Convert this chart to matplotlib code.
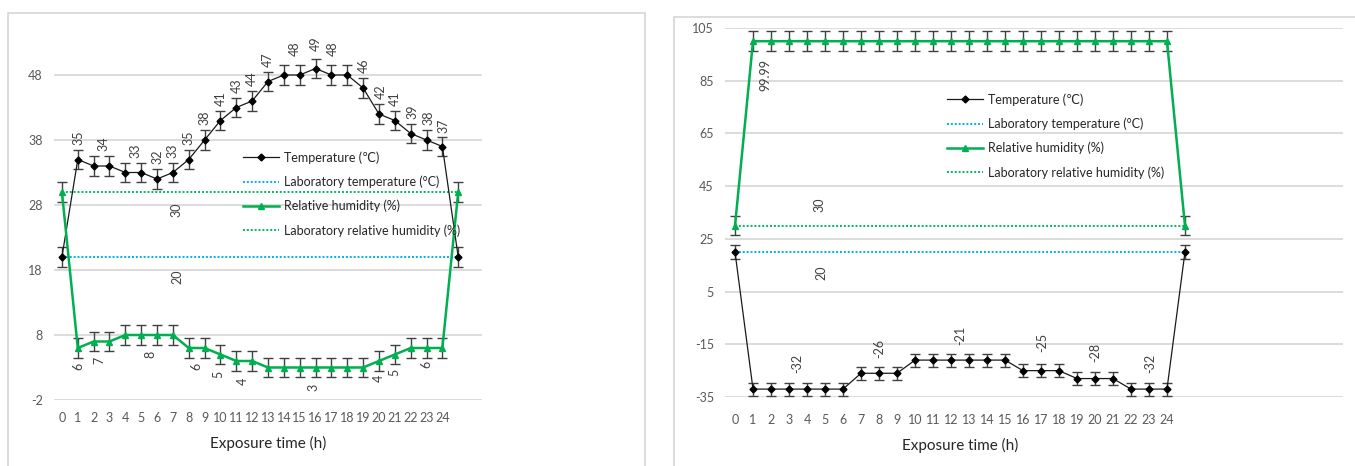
import matplotlib
matplotlib.use("Agg")
import matplotlib.pyplot as plt
from matplotlib.lines import Line2D

# ---- data -------------------------------------------------------------
hours = [str(h) for h in range(25)] + [""]

left_temp = [20, 35, 34, 34, 33, 33, 32, 33, 35, 38, 41, 43, 44, 47, 48, 48,
             49, 48, 48, 46, 42, 41, 39, 38, 37, 20]
left_rh = [30, 6, 7, 7, 8, 8, 8, 8, 6, 6, 5, 4, 4, 3, 3, 3, 3, 3, 3, 3,
           4, 5, 6, 6, 6, 30]

right_temp = [20, -32, -32, -32, -32, -32, -32, -26, -26, -26, -21, -21, -21,
              -21, -21, -21, -25, -25, -25, -28, -28, -28, -32, -32, -32, 20]
right_rh = [30] + [99.99] * 24 + [30]

lab_temp = 20
lab_rh = 30

left_temp_err = 1.5
left_rh_err = 1.5
right_temp_err = 2.5
right_rh_err = 3.7

left_yticks = [-2, 8, 18, 28, 38, 48]
right_yticks = [-35, -15, 5, 25, 45, 65, 85, 105]

# ---- style ------------------------------------------------------------
plt.rcParams["font.family"] = ["Lato", "DejaVu Sans"]
plt.rcParams["axes.unicode_minus"] = False

W, H = 1355, 466
C_TEMP = "#1a1a1a"
C_ERR = "#404040"
C_RH = "#00B050"
C_LAB_T = "#00B0F0"
C_LAB_RH = "#00B860"
C_GRID = "#D9D9D9"
C_TICK = "#595959"
C_LBL = "#404040"
FS = 8.5

fig = plt.figure(figsize=(W / 100, H / 100), dpi=100)


def px_axes(x0, y0, x1, y1):
    """Axes from pixel box (left, top, right, bottom)."""
    return fig.add_axes([x0 / W, 1 - y1 / H, (x1 - x0) / W, (y1 - y0) / H])


def frame_line(xs, ys):
    fig.add_artist(Line2D([x / W for x in xs], [1 - y / H for y in ys],
                          color=C_GRID, lw=1.3, transform=fig.transFigure))


def draw_panel(ax, temp, rh, t_err, r_err, yticks, ylim, xlim, xpad):
    x = list(range(len(temp)))
    ax.set_xlim(*xlim)
    ax.set_ylim(*ylim)
    ax.set_yticks(yticks)
    ax.set_xticks(x)
    ax.set_xticklabels(hours)
    ax.yaxis.grid(True, color=C_GRID, lw=1.3)
    ax.set_axisbelow(True)
    for s in ax.spines.values():
        s.set_visible(False)
    ax.tick_params(length=0, labelsize=FS + 0.5, colors=C_TICK)
    ax.tick_params(axis="y", pad=8)
    ax.tick_params(axis="x", pad=xpad)

    lab_t, = ax.plot([0, len(temp) - 1], [lab_temp, lab_temp], ls=(0, (1, 1)),
                     lw=1.4, color=C_LAB_T, label="Laboratory temperature (°C)",
                     zorder=2)
    lab_r, = ax.plot([0, len(temp) - 1], [lab_rh, lab_rh], ls=(0, (1, 1)),
                     lw=1.4, color=C_LAB_RH,
                     label="Laboratory relative humidity (%)", zorder=2)

    ax.errorbar(x, temp, yerr=t_err, fmt="none", ecolor=C_ERR, elinewidth=1,
                capsize=3.5, capthick=1, zorder=3)
    ax.errorbar(x, rh, yerr=r_err, fmt="none", ecolor=C_ERR, elinewidth=1,
                capsize=3.5, capthick=1, zorder=3)
    t_line, = ax.plot(x, temp, color=C_TEMP, lw=0.9, marker="D", ms=3.5,
                      mfc="black", mec="black", label="Temperature (℃)",
                      zorder=4)
    r_line, = ax.plot(x, rh, color=C_RH, lw=1.8, marker="^", ms=5,
                      mfc=C_RH, mec=C_RH, label="Relative humidity (%)",
                      zorder=4)
    return [t_line, lab_t, r_line, lab_r]


def value_labels(ax, values, spec):
    for idx, dx, dy in spec:
        v = values[idx]
        ax.annotate(f"{v:g}", (idx, v), xytext=(dx, dy),
                    textcoords="offset pixels", rotation=90, ha="center",
                    va="center", fontsize=FS + 0.5, color=C_LBL,
                    annotation_clip=False, zorder=5)


def lab_label(ax, value, pos, dx, dy):
    ax.annotate(f"{value:g}", (pos, value), xytext=(dx, dy),
                textcoords="offset pixels", rotation=90, ha="center",
                va="center", fontsize=FS + 0.5, color=C_LBL, zorder=5)


def add_legend(ax, handles, x_px, top_px):
    ax.legend(handles=handles, loc="upper left",
              bbox_to_anchor=(x_px / W, 1 - top_px / H),
              bbox_transform=fig.transFigure, frameon=False, fontsize=FS + 0.5,
              handlelength=2.9, handletextpad=0.4, labelspacing=0.95,
              borderpad=0, borderaxespad=0, numpoints=1, labelcolor="#262626")


# ---- left panel -------------------------------------------------------
frame_line([8, 8, 645, 645], [H, 13, 13, H])
axL = px_axes(54, 29.5, 482, 400)
handles_L = draw_panel(axL, left_temp, left_rh, left_temp_err, left_rh_err,
                       left_yticks, (-2, 55), (-0.5, 26.5), 9)

value_labels(axL, left_temp, [
    (1, 1, 22), (2, 10, 22), (4, 10, 22), (6, 0, 22), (7, 0, 22),
    (8, 0, 22), (9, 0, 22), (10, 0, 22), (11, 1, 22), (12, 0, 22),
    (13, 0, 22), (14, 11, 26), (16, 0, 25), (17, 1, 26), (19, 1, 22),
    (20, 2, 22), (21, 0, 22), (22, 2, 22), (23, 2, 22), (24, 1, 21),
])
value_labels(axL, left_rh, [
    (1, 1, -18), (2, 6, -19), (5, 9, -19), (8, 8, -18), (10, -2, -20),
    (11, 7, -20), (16, -2, -20), (20, 0, -17), (21, 0, -18), (23, 0, -16),
])
lab_label(axL, lab_rh, 7, 4, -18)
lab_label(axL, lab_temp, 7, 5, -20)

add_legend(axL, handles_L, 243, 151)
fig.text(268 / W, 1 - 443 / H, "Exposure time (h)", ha="center", va="center",
         fontsize=11, color="#262626")

# ---- right panel ------------------------------------------------------
frame_line([674, 674, W + 5], [H, 17, 17])
axR = px_axes(725, 28, 1343, 397)
handles_R = draw_panel(axR, right_temp, right_rh, right_temp_err, right_rh_err,
                       right_yticks, (-35, 105), (-0.556, 33.78), 12)

value_labels(axR, right_rh, [(1, 12, -34)])
value_labels(axR, right_temp, [
    (3, 8, 26), (8, 0, 25), (12, 9, 25), (17, 1, 28), (20, 0, 26), (23, 1, 26),
])
lab_label(axR, lab_rh, 4.67, 0, 21)
lab_label(axR, lab_temp, 4.8, 0, -21)

add_legend(axR, handles_R, 947, 93)
fig.text(960 / W, 1 - 445 / H, "Exposure time (h)", ha="center", va="center",
         fontsize=11, color="#262626")

fig.savefig("out.png", dpi=100, facecolor="white")
